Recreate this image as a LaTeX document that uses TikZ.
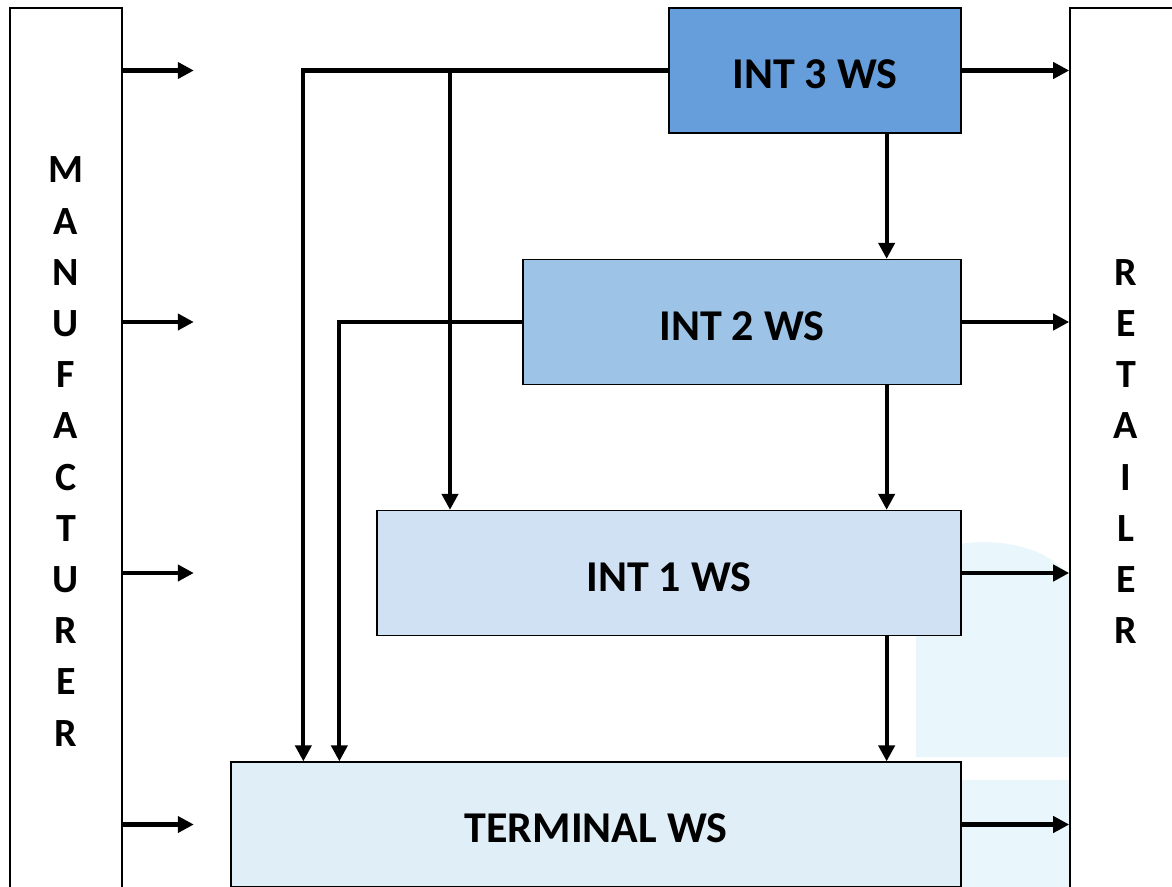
\documentclass[tikz,border=0pt]{standalone}
\usepackage{fontspec}
\setmainfont{Carlito}
\usetikzlibrary{arrows.meta, positioning}
\definecolor{wsthree}{HTML}{669DDB}
\definecolor{wstwo}{HTML}{9DC3E6}
\definecolor{wsone}{HTML}{CFE1F3}
\definecolor{wsterm}{HTML}{DFEEF7}
\definecolor{wmark}{HTML}{E9F6FB}

\begin{document}
\begin{tikzpicture}[x=1pt, y=-1pt,
        ws/.style={draw=black, line width=1.3pt, minimum height=125pt, inner sep=0pt, text height=36.5pt, text depth=0pt, font=\fontsize{44}{50}\selectfont\bfseries},
        party/.style={draw=black, line width=1.6pt, fill=white, minimum width=112pt, minimum height=887pt, align=center, inner sep=0pt, font=\fontsize{40}{51.2}\selectfont\bfseries},
        flow/.style={-{Triangle[length=16pt, width=16pt]}, line width=4.2pt}
    ]
        \useasboundingbox (0,0) rectangle (1172,886);
        \clip (0,0) rectangle (1172,886);

        % faint shape behind the lower boxes
        \fill [wmark] (916,757) -- (916,565) .. controls (935,535) and (1040,530) .. (1070,578) -- (1070,757) -- cycle;
        \fill [wmark] (916,780) rectangle (1070,890);

        \node (manu) [party] at (66,451.5) {M\\A\\N\\U\\F\\A\\C\\T\\U\\R\\E\\R};
        \node (retail) [party] at (1126,451.5) {R\\E\\T\\A\\I\\L\\E\\R};

        \node (int3) [ws, fill=wsthree, minimum width=292pt] at (815,70.5) {INT 3 WS};
        \node (int2) [ws, fill=wstwo, minimum width=438pt] at (742,322) {INT 2 WS};
        \node (int1) [ws, fill=wsone, minimum width=584pt] at (669,573) {INT 1 WS};
        \node (term) [ws, fill=wsterm, minimum width=730pt] at (596,824.5) {TERMINAL WS};

        % flows in and out of every tier
        \foreach \ws in {int3, int2, int1, term} {
            \path (manu.east |- \ws) ++(71,0) coordinate (tip-\ws);
            \draw [flow] (manu.east |- \ws) -- (tip-\ws);
            \draw [flow] (\ws.east) -- (retail.west |- \ws);
        }

        % down the chain
        \foreach \a/\b in {int3/int2, int2/int1, int1/term}
            \draw [flow] ([xshift=-75pt]\a.south east) -- ([xshift=-75pt]\b.north east);

        % skipping tiers
        \coordinate (skip3) at (450,70.5);
        \draw [flow] (int3.west) -| ([xshift=73pt]term.north west);
        \draw [flow] (skip3) -- (skip3 |- int1.north);
        \draw [flow] (int2.west) -| ([xshift=109pt]term.north west);
    \end{tikzpicture}
\end{document}
